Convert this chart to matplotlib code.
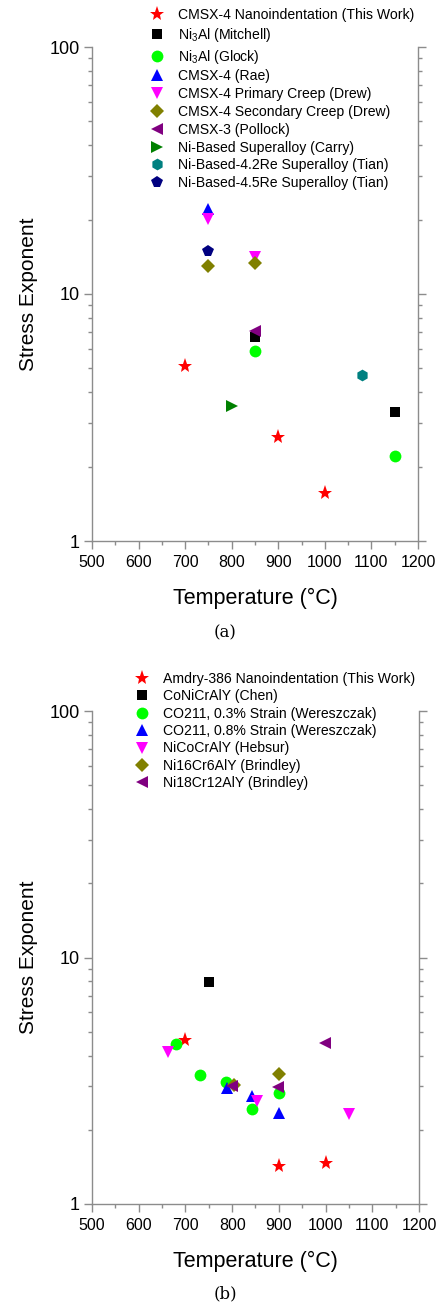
import matplotlib
matplotlib.use("Agg")
import matplotlib.pyplot as plt
from matplotlib.ticker import FixedLocator, LogLocator, NullFormatter, FixedFormatter

plt.rcParams['font.family'] = ['Liberation Sans', 'DejaVu Sans']
plt.rcParams['mathtext.fontset'] = 'custom'
plt.rcParams['mathtext.rm'] = 'Liberation Sans'
plt.rcParams['mathtext.it'] = 'Liberation Sans:italic'

# ---- Panel (a): CMSX-4 and related superalloys ----
a_labels = [
    "CMSX-4 Nanoindentation (This Work)",
    "Ni$_3$Al (Mitchell)",
    "Ni$_3$Al (Glock)",
    "CMSX-4 (Rae)",
    "CMSX-4 Primary Creep (Drew)",
    "CMSX-4 Secondary Creep (Drew)",
    "CMSX-3 (Pollock)",
    "Ni-Based Superalloy (Carry)",
    "Ni-Based-4.2Re Superalloy (Tian)",
    "Ni-Based-4.5Re Superalloy (Tian)",
]
a_temps = [
    [700, 900, 1000],
    [850, 1150],
    [850, 1150],
    [750],
    [750, 850],
    [750, 850],
    [850],
    [800],
    [1080],
    [750],
]
a_values = [
    [5.1, 2.63, 1.56],
    [6.7, 3.32],
    [5.9, 2.21],
    [22.0],
    [20.2, 14.1],
    [13.0, 13.3],
    [7.1],
    [3.53],
    [4.68],
    [15.0],
]
a_markers = ['*', 's', 'o', '^', 'v', 'D', '<', '>', 'h', 'p']
a_colors = ['#ff0000', '#000000', '#00ff00', '#0000ff', '#ff00ff',
            '#808000', '#800080', '#008000', '#008080', '#000080']

# ---- Panel (b): MCrAlY bond coats ----
b_labels = [
    "Amdry-386 Nanoindentation (This Work)",
    "CoNiCrAlY (Chen)",
    "CO211, 0.3% Strain (Wereszczak)",
    "CO211, 0.8% Strain (Wereszczak)",
    "NiCoCrAlY (Hebsur)",
    "Ni16Cr6AlY (Brindley)",
    "Ni18Cr12AlY (Brindley)",
]
b_temps = [
    [700, 900, 1000],
    [750],
    [679, 731, 787, 843, 900],
    [788, 843, 900],
    [662, 853, 1050],
    [803, 900],
    [799, 899, 999],
]
b_values = [
    [4.63, 1.42, 1.47],
    [7.98],
    [4.44, 3.33, 3.12, 2.42, 2.81],
    [2.95, 2.75, 2.35],
    [4.15, 2.62, 2.31],
    [3.04, 3.36],
    [3.02, 2.97, 4.49],
]
b_markers = ['*', 's', 'o', '^', 'v', 'D', '<']
b_colors = ['#ff0000', '#000000', '#00ff00', '#0000ff', '#ff00ff',
            '#808000', '#800080']

x_ticks = [500, 600, 700, 800, 900, 1000, 1100, 1200]
y_ticks = [1, 10, 100]
y_ticklabels = ["1", "10", "100"]

marker_sizes = {'*': 11, 's': 7.5, 'o': 8.5, '^': 8.5, 'v': 8.5, 'D': 7,
                '<': 8.5, '>': 8.5, 'h': 8.5, 'p': 8.5}

W, H = 441, 1305
fig = plt.figure(figsize=(W / 100, H / 100), dpi=100)

spine_color = '#8c8c8c'


def px_rect(left, top, right, bottom):
    return [left / W, 1 - bottom / H, (right - left) / W, (bottom - top) / H]


def style_axes(ax):
    ax.set_yscale('log')
    ax.set_xlim(500, 1200)
    ax.set_ylim(1, 100)
    ax.spines['top'].set_visible(False)
    for s in ('left', 'right', 'bottom'):
        ax.spines[s].set_color(spine_color)
        ax.spines[s].set_linewidth(1.0)
    ax.xaxis.set_major_locator(FixedLocator(x_ticks))
    ax.xaxis.set_minor_locator(FixedLocator([550, 650, 750, 850, 950, 1050, 1150]))
    ax.yaxis.set_major_locator(FixedLocator(y_ticks))
    ax.yaxis.set_major_formatter(FixedFormatter(y_ticklabels))
    ax.yaxis.set_minor_locator(LogLocator(base=10, subs=range(2, 10)))
    ax.yaxis.set_minor_formatter(NullFormatter())
    ax.tick_params(axis='both', which='both', direction='out', color=spine_color, width=1.0)
    ax.tick_params(axis='y', which='both', left=True, right=True)
    ax.tick_params(axis='both', which='major', length=6)
    ax.tick_params(axis='both', which='minor', length=3)
    ax.tick_params(axis='x', which='major', labelsize=11.5, pad=4)
    ax.tick_params(axis='y', which='major', labelsize=13, pad=3)
    ax.set_xlabel("Temperature (°C)", fontsize=15.5, labelpad=13)
    ax.set_ylabel("Stress Exponent", fontsize=15, labelpad=8)


def draw_series(ax, labels, temps, values, markers, colors):
    handles = []
    for lab, xs, ys, m, c in zip(labels, temps, values, markers, colors):
        h, = ax.plot(xs, ys, linestyle='none', marker=m, color=c,
                     markersize=marker_sizes[m], markeredgewidth=0,
                     label=lab, clip_on=False)
        handles.append(h)
    return handles


# Panel (a)
ax_a = fig.add_axes(px_rect(92, 47, 418, 541))
style_axes(ax_a)
ha = draw_series(ax_a, a_labels, a_temps, a_values, a_markers, a_colors)
fig.legend(handles=ha, loc='upper left', bbox_to_anchor=(150 / W, 1 - 8 / H),
           frameon=False, fontsize=10.1, handlelength=1.0, handletextpad=1.0,
           labelspacing=0.27, borderpad=0, borderaxespad=0, markerscale=1.0)
fig.text(225 / W, 1 - 633 / H, "(a)", ha='center', va='center',
         fontsize=12, family='DejaVu Serif')

# Panel (b)
ax_b = fig.add_axes(px_rect(92, 711, 419, 1204))
style_axes(ax_b)
hb = draw_series(ax_b, b_labels, b_temps, b_values, b_markers, b_colors)
fig.legend(handles=hb, loc='upper left', bbox_to_anchor=(135 / W, 1 - 672 / H),
           frameon=False, fontsize=10.1, handlelength=1.0, handletextpad=1.0,
           labelspacing=0.24, borderpad=0, borderaxespad=0, markerscale=1.0)
fig.text(225 / W, 1 - 1294 / H, "(b)", ha='center', va='center',
         fontsize=12, family='DejaVu Serif')

fig.savefig("out.png", dpi=100)
